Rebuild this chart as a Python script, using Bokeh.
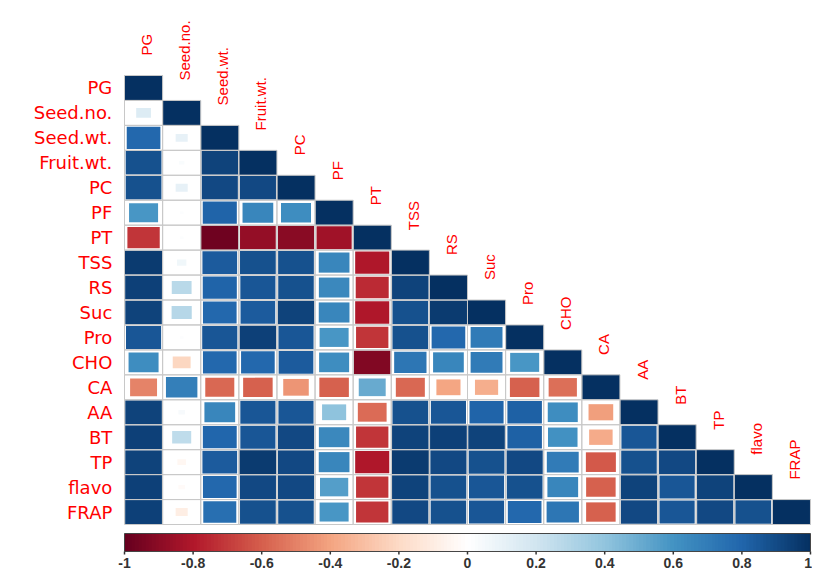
import numpy as np
from bokeh.plotting import figure
from bokeh.models import ColumnDataSource, LinearColorMapper, Range1d
from bokeh.core.properties import value
from bokeh.embed import file_html
from bokeh.resources import INLINE

# ---------------- data ----------------
labels = ["PG", "Seed.no.", "Seed.wt.", "Fruit.wt.", "PC", "PF", "PT", "TSS", "RS",
          "Suc", "Pro", "CHO", "CA", "AA", "BT", "TP", "flavo", "FRAP"]

# lower-triangle correlation rows (row i, columns 0..i)
r_PG      = [1.00]
r_Seed_no = [0.15, 1.00]
r_Seed_wt = [0.78, 0.10, 1.00]
r_Fruit_wt = [0.88, 0.02, 0.92, 1.00]
r_PC      = [0.88, 0.10, 0.90, 0.90, 1.00]
r_PF      = [0.58, 0.01, 0.80, 0.65, 0.62, 1.00]
r_PT      = [-0.72, 0.01, -0.98, -0.88, -0.90, -0.85, 1.00]
r_TSS     = [0.95, 0.06, 0.83, 0.88, 0.88, 0.65, -0.80, 1.00]
r_RS      = [0.93, 0.27, 0.80, 0.85, 0.87, 0.64, -0.75, 0.92, 1.00]
r_Suc     = [0.92, 0.28, 0.78, 0.83, 0.92, 0.65, -0.80, 0.88, 0.95, 1.00]
r_Pro     = [0.85, 0.01, 0.85, 0.93, 0.85, 0.58, -0.72, 0.88, 0.78, 0.70, 1.00]
r_CHO     = [0.62, -0.22, 0.78, 0.78, 0.83, 0.62, -0.92, 0.72, 0.65, 0.70, 0.58, 1.00]
r_CA      = [-0.50, 0.68, -0.58, -0.60, -0.45, -0.60, 0.50, -0.58, -0.40, -0.37, -0.60, -0.55, 1.00]
r_AA      = [0.92, 0.03, 0.65, 0.85, 0.85, 0.40, -0.57, 0.88, 0.85, 0.80, 0.82, 0.62, -0.42, 1.00]
r_BT      = [0.93, 0.25, 0.79, 0.85, 0.90, 0.64, -0.72, 0.92, 0.93, 0.92, 0.82, 0.60, -0.38, 0.85, 1.00]
r_TP      = [0.92, -0.05, 0.83, 0.95, 0.90, 0.65, -0.80, 0.95, 0.90, 0.88, 0.90, 0.70, -0.62, 0.87, 0.90, 1.00]
r_flavo   = [0.93, -0.03, 0.78, 0.90, 0.90, 0.55, -0.72, 0.92, 0.88, 0.85, 0.88, 0.65, -0.60, 0.92, 0.85, 0.92, 1.00]
r_FRAP    = [0.93, -0.10, 0.75, 0.88, 0.87, 0.58, -0.72, 0.90, 0.87, 0.85, 0.78, 0.72, -0.60, 0.90, 0.85, 0.90, 0.88, 1.00]

rows = [r_PG, r_Seed_no, r_Seed_wt, r_Fruit_wt, r_PC, r_PF, r_PT, r_TSS, r_RS,
        r_Suc, r_Pro, r_CHO, r_CA, r_AA, r_BT, r_TP, r_flavo, r_FRAP]

cb_ticks = [-1.0, -0.8, -0.6, -0.4, -0.2, 0.0, 0.2, 0.4, 0.6, 0.8, 1.0]
cb_labels = ["-1", "-0.8", "-0.6", "-0.4", "-0.2", "0", "0.2", "0.4", "0.6", "0.8", "1"]

# ---------------- palette (corrplot RdBu) ----------------
anchors = ["#67001F", "#B2182B", "#D6604D", "#F4A582", "#FDDBC7", "#FFFFFF",
           "#D1E5F0", "#92C5DE", "#4393C3", "#2166AC", "#053061"]
rgb = [tuple(int(h[k:k + 2], 16) for k in (1, 3, 5)) for h in anchors]
palette = []
for k in range(200):
    t = k / 199 * 10
    i = min(int(t), 9)
    f = t - i
    c = tuple(int(round(a + (b - a) * f)) for a, b in zip(rgb[i], rgb[i + 1]))
    palette.append("#%02x%02x%02x" % c)
mapper = LinearColorMapper(palette=palette, low=-1, high=1)

n = len(labels)
xs, ys, rs, ss = [], [], [], []
for i, row in enumerate(rows):
    for j, r in enumerate(row):
        xs.append(j + 0.5)
        ys.append(n - 0.5 - i)
        rs.append(r)
        ss.append(abs(r) ** 0.5)
src = ColumnDataSource(dict(x=xs, y=ys, r=rs, s=ss))

# ---------------- figure ----------------
p = figure(width=812, height=572,
           x_range=Range1d(-3.254, 18.053), y_range=Range1d(-1.924, 21.007),
           output_backend="svg", toolbar_location=None,
           x_axis_location=None, y_axis_location=None,
           min_border=0, min_border_left=0, min_border_right=0,
           min_border_top=0, min_border_bottom=0)
p.grid.visible = False
p.outline_line_color = None
p.background_fill_color = "white"
p.border_fill_color = "white"

p.rect("x", "y", width=1, height=1, source=src, fill_color="white", line_color=None)
p.rect("x", "y", width="s", height="s", source=src,
       fill_color={"field": "r", "transform": mapper}, line_color=None)
p.rect("x", "y", width=1, height=1, source=src, fill_color=None,
       line_color="#c8c8c8", line_width=1)

# row labels
row_src = ColumnDataSource(dict(x=[-0.32] * n, y=[n - 0.5 - i for i in range(n)], t=labels))
p.text("x", "y", text="t", source=row_src, text_align="right", text_baseline="middle",
       text_color="red", text_font=value("DejaVu Sans"), text_font_size="18px")

# column labels (vertical, along diagonal)
col_src = ColumnDataSource(dict(x=[j + 0.58 for j in range(n)], y=[n - j + 0.8 for j in range(n)], t=labels))
p.text("x", "y", text="t", source=col_src, angle=np.pi / 2, text_align="left",
       text_baseline="middle", text_color="red", text_font=value("Liberation Sans"),
       text_font_size="15px")

# ---------------- colour bar ----------------
cb_top, cb_bot = -0.361, -1.082
grad = np.array([np.linspace(-1, 1, 600)])
p.image(image=[grad], x=0, y=cb_bot, dw=n, dh=cb_top - cb_bot, color_mapper=mapper)
p.rect(x=n / 2, y=(cb_top + cb_bot) / 2, width=n, height=cb_top - cb_bot,
       fill_color=None, line_color="#444444", line_width=1)
tick_x = [(t + 1) / 2 * n for t in cb_ticks]
p.segment(x0=tick_x, y0=[cb_bot] * len(tick_x), x1=tick_x, y1=[cb_bot - 0.12] * len(tick_x),
          line_color="#333333", line_width=1.5)
aligns = ["center"] * (len(tick_x) - 1) + ["right"]
lab_x = tick_x[:-1] + [tick_x[-1] + 0.04]
cb_src = ColumnDataSource(dict(x=lab_x, y=[-1.54] * len(tick_x), t=cb_labels, a=aligns))
p.text("x", "y", text="t", source=cb_src, text_align="a", text_baseline="middle",
       text_color="#333333", text_font=value("Liberation Sans"), text_font_size="14px",
       text_font_style="bold")

open("out.html", "w").write(file_html(p, INLINE))
